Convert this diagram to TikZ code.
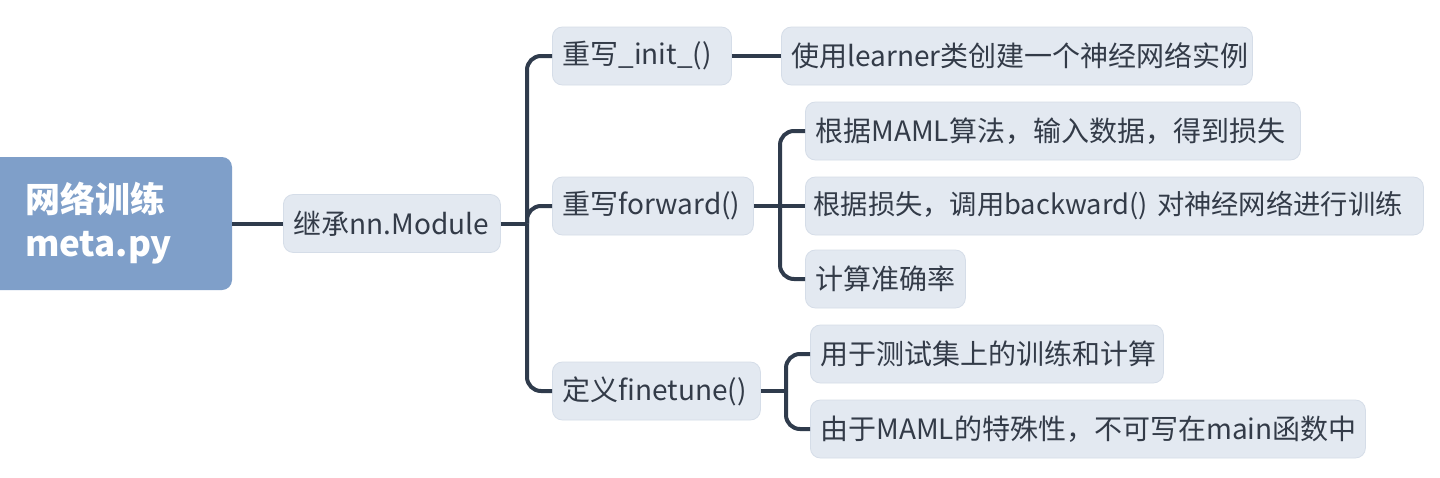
\documentclass[tikz,border=0pt]{standalone}
\usepackage{fontspec}
\setmainfont{Noto Sans CJK SC}
\definecolor{rootfill}{HTML}{7F9FC9}
\definecolor{boxfill}{HTML}{E3E9F1}
\definecolor{boxline}{HTML}{D5DDE8}
\definecolor{txt}{HTML}{333B48}
\definecolor{conn}{HTML}{2F3B4C}
\tikzset{
  rootbox/.style={fill=rootfill, rounded corners=10pt, text=white, font=\fontsize{35}{44}\selectfont\bfseries, align=left},
  topic/.style={fill=boxfill, draw=boxline, line width=0.8pt, rounded corners=10pt, text=txt, font=\fontsize{28}{32}\selectfont, minimum height=58pt, inner xsep=10pt, align=left, text width={#1-20pt}, anchor=west},
  link/.style={draw=conn, line width=4pt, rounded corners=14pt},
}
\begin{document}
\begin{tikzpicture}[x=1pt,y=-1pt]
\useasboundingbox (0,0) rectangle (1440,477);
\fill[white] (0,0) rectangle (1440,477);
% root
\node[rootbox, text width=167pt, inner xsep=40pt, minimum height=133pt] (root) at (108.5,223.5) {网络训练\\meta.py};
% level 1
\node[topic=217pt] (mod) at (283,223.5) {继承nn.Module};
% level 2
\node[topic=179pt] (init) at (552,56) {重写\_init\_()};
\node[topic=201pt] (fwd) at (552,206) {重写forward()};
\node[topic=208pt] (fin) at (552,391) {定义finetune()};
% level 3
\node[topic=471pt] (a1) at (781,56) {使用learner类创建一个神经网络实例};
\node[topic=495pt] (b1) at (805,131) {根据MAML算法，输入数据，得到损失};
\node[topic=622pt, inner xsep=8pt, font=\fontsize{27.3}{32}\selectfont] (b2) at (805,206) {\mbox{根据损失，调用backward() 对神经网络进行训练}};
\node[topic=160pt] (b3) at (805,279) {计算准确率};
\node[topic=353pt] (c1) at (810,354) {用于测试集上的训练和计算};
\node[topic=555pt] (c2) at (810,429) {由于MAML的特殊性，不可写在main函数中};
% junctions
\coordinate (j1) at (527,223.5);
\coordinate (j2) at (780,206);
\coordinate (j3) at (786,391);
% connectors
\draw[link] (root.east) -- (mod.west);
\draw[link] (mod.east) -- (j1);
\draw[link] (j1) |- (init.west);
\draw[link] (j1) |- (fwd.west);
\draw[link] (j1) |- (fin.west);
\draw[link] (init.east) -- (a1.west);
\draw[link] (fwd.east) -- (j2);
\draw[link] (j2) |- (b1.west);
\draw[link] (j2) -- (b2.west);
\draw[link] (j2) |- (b3.west);
\draw[link] (fin.east) -- (j3);
\draw[link] (j3) |- (c1.west);
\draw[link] (j3) |- (c2.west);
\end{tikzpicture}
\end{document}
